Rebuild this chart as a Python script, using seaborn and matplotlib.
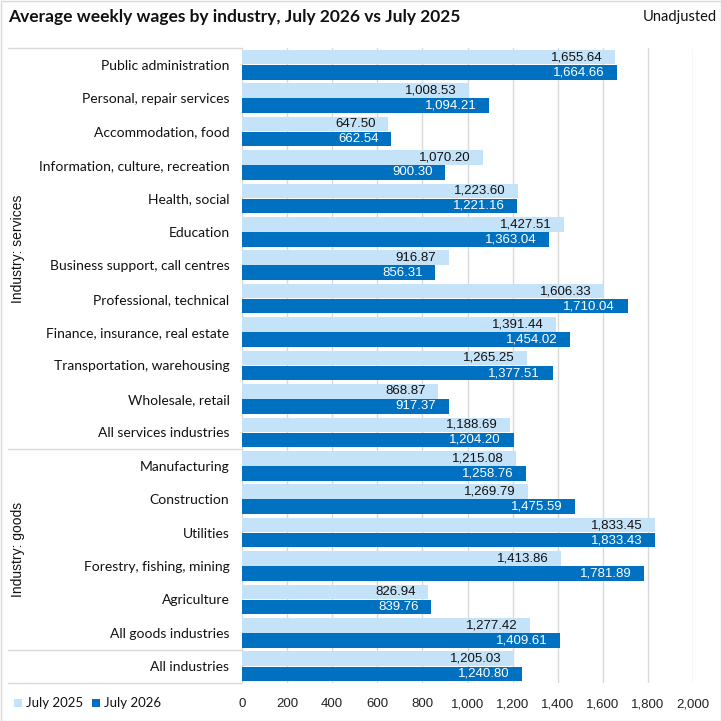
import matplotlib
matplotlib.use("Agg")
import matplotlib.pyplot as plt
import seaborn as sns
import pandas as pd
from matplotlib.lines import Line2D
from matplotlib.patches import Rectangle

categories = [
    "Public administration", "Personal, repair services", "Accommodation, food",
    "Information, culture, recreation", "Health, social", "Education",
    "Business support, call centres", "Professional, technical",
    "Finance, insurance, real estate", "Transportation, warehousing",
    "Wholesale, retail", "All services industries",
    "Manufacturing", "Construction", "Utilities", "Forestry, fishing, mining",
    "Agriculture", "All goods industries", "All industries",
]
july_2025 = [1655.64, 1008.53, 647.50, 1070.20, 1223.60, 1427.51, 916.87, 1606.33,
             1391.44, 1265.25, 868.87, 1188.69, 1215.08, 1269.79, 1833.45, 1413.86,
             826.94, 1277.42, 1205.03]
july_2026 = [1664.66, 1094.21, 662.54, 900.30, 1221.16, 1363.04, 856.31, 1710.04,
             1454.02, 1377.51, 917.37, 1204.20, 1258.76, 1475.59, 1833.43, 1781.89,
             839.76, 1409.61, 1240.80]
series_names = ["July 2025", "July 2026"]
groups = [("Industry: services", 0, 12), ("Industry: goods", 12, 18)]
x_ticks = list(range(0, 2001, 200))

LIGHT = "#c5e3f8"
DARK = "#0070c0"

df = pd.DataFrame({
    "Industry": categories * 2,
    "Wage": july_2025 + july_2026,
    "Period": [series_names[0]] * len(categories) + [series_names[1]] * len(categories),
})

sns.set_theme(style="white")
plt.rcParams["font.family"] = ["Liberation Sans", "DejaVu Sans"]
LATO = ["Lato", "DejaVu Sans"]

fig = plt.figure(figsize=(7.21, 7.21), dpi=100)
W = H = 721.0
ax = fig.add_axes([242 / W, 1 - 683 / H, 451 / W, 635 / H])

sns.barplot(data=df, y="Industry", x="Wage", hue="Period", order=categories,
            hue_order=series_names, palette=[LIGHT, DARK], orient="h",
            width=0.9, gap=0.03, ax=ax, legend=False, saturation=1, linewidth=0)

ax.set_xlim(0, 2000)
ax.set_ylim(len(categories) - 0.5, -0.5)
ax.set_xticks(x_ticks)
ax.set_xticklabels([f"{v:,}" for v in x_ticks], fontsize=9.5, color="#222222")
ax.tick_params(axis="x", length=0, pad=11)
ax.tick_params(axis="y", length=0, pad=9)
ax.set_yticks(range(len(categories)))
ax.set_yticklabels(categories, fontsize=10, family=LATO, color="#111111")
ax.set_xlabel("")
ax.set_ylabel("")
ax.grid(axis="x", color="#d9d9d9", linewidth=1)
ax.set_axisbelow(True)
for s in ax.spines.values():
    s.set_visible(False)

# data labels, right-aligned inside bar ends
for cont, color in zip(ax.containers, ["#111111", "white"]):
    labels = [f"{v:,.2f}" for v in cont.datavalues]
    texts = ax.bar_label(cont, labels=labels, label_type="edge", padding=-9,
                         fontsize=9.5, color=color)
    for t in texts:
        t.set_ha("right")

# separators on the left
x_left = (8 - 242) / 451 * 2000
for y in [-0.5, 11.5, 17.5, len(categories) - 0.5]:
    ax.add_line(Line2D([x_left, 0], [y, y], color="#d9d9d9", linewidth=1, clip_on=False))

# group labels
for name, a, b in groups:
    yc = (a + b - 1) / 2
    ax.text((18 - 242) / 451 * 2000, yc, name, rotation=90, ha="center", va="center",
            fontsize=10, color="#111111", clip_on=False)

# title and note
fig.text(8 / W, 1 - 17 / H, "Average weekly wages by industry, July 2026 vs July 2025",
         fontsize=12.5, fontweight="bold", family=LATO, ha="left",
         va="center", color="#111111")
fig.text(717 / W, 1 - 17 / H, "Unadjusted", fontsize=10.5, family=LATO,
         ha="right", va="center", color="#111111")

# legend
for xpos, col, name in [(14, LIGHT, series_names[0]), (92, DARK, series_names[1])]:
    fig.patches.append(Rectangle((xpos / W, 1 - 707 / H), 8 / W, 8 / H, transform=fig.transFigure,
                                 facecolor=col, edgecolor="none"))
    fig.text((xpos + 12) / W, 1 - 703 / H, name, fontsize=9.5, family=LATO,
             ha="left", va="center", color="#111111")

# figure border
fig.patches.append(Rectangle((0.5 / W, 0.5 / H), 1 - 1 / W, 1 - 1 / H, transform=fig.transFigure,
                             facecolor="none", edgecolor="#d9d9d9", linewidth=1))

fig.savefig("out.png", dpi=100)
